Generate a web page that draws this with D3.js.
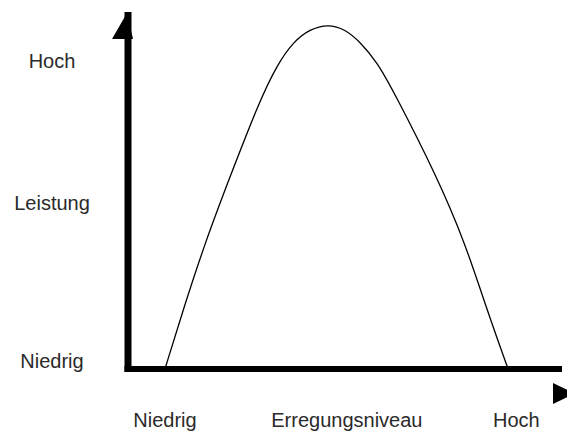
<!DOCTYPE html>
<html>
<head>
  <meta charset="utf-8">
  <title>Leistung und Erregungsniveau</title>
  <script src="https://d3js.org/d3.v7.min.js"></script>
  <style>
    body {
      margin: 0;
      background: #fff;
    }
    svg text {
      font-family: "Liberation Sans", Arial, sans-serif;
      font-size: 20px;
      fill: #2a2a2a;
    }
    .curve {
      fill: none;
      stroke: #000;
      stroke-width: 1.3;
    }
    .axis-line {
      stroke: #000;
    }
  </style>
</head>
<body>
  <svg id="chart" width="567" height="434"></svg>

  <script>
    // Curve (arousal 0-10, performance 0-10)
    const arousal = [0.86, 1.28, 1.79, 2.37, 3.07, 3.47, 3.84, 4.23, 4.65, 5.05, 5.4, 5.79, 6.16, 7.19, 7.84, 8.35, 8.84];
    const performance = [0, 1.65, 3.53, 5.38, 7.54, 8.52, 9.16, 9.52, 9.66, 9.52, 9.16, 8.6, 7.82, 5.38, 3.53, 1.65, 0];

    // Axis labels
    const xLabels = ["Niedrig", "Hoch"];
    const xLabelPos = [0.86, 9.03];
    const yLabels = ["Niedrig", "Hoch"];
    const yLabelPos = [0.03, 8.43];
    const xTitle = "Erregungsniveau";
    const xTitlePos = 5.09;
    const yTitle = "Leistung";
    const yTitlePos = 4.45;

    const svg = d3.select("#chart");
    const width = +svg.attr("width");

    const x = d3.scaleLinear().domain([0, 10]).range([128, 558]);
    const y = d3.scaleLinear().domain([0, 10]).range([369, 12]);

    const points = arousal.map((a, i) => ({ a, p: performance[i] }));

    // Curve (basis spline smooths small reading errors)
    svg.append("path")
      .datum(points)
      .attr("class", "curve")
      .attr("d", d3.line()
        .x(d => x(d.a))
        .y(d => y(d.p))
        .curve(d3.curveBasis));

    // Vertical axis with arrow
    svg.append("line")
      .attr("class", "axis-line")
      .attr("x1", x(0)).attr("x2", x(0))
      .attr("y1", y(10)).attr("y2", y(0) + 3)
      .attr("stroke-width", 7);
    svg.append("path")
      .attr("d", `M${x(0) - 16},39 L${x(0) + 5},39 L${x(0) - 1},13 Z`)
      .attr("fill", "#000");

    // Horizontal axis with arrow (arrow sits below, as in the original)
    svg.append("line")
      .attr("class", "axis-line")
      .attr("x1", x(0) - 3.5).attr("x2", width - 5)
      .attr("y1", y(0)).attr("y2", y(0))
      .attr("stroke-width", 6);
    svg.append("path")
      .attr("d", `M553,383 L553,404 L575,393.5 Z`)
      .attr("fill", "#000");

    // Y labels
    svg.selectAll(".ylab")
      .data(yLabels)
      .join("text")
      .attr("class", "ylab")
      .attr("x", 52)
      .attr("y", (d, i) => y(yLabelPos[i]))
      .attr("text-anchor", "middle")
      .text(d => d);
    svg.append("text")
      .attr("x", 52)
      .attr("y", y(yTitlePos))
      .attr("text-anchor", "middle")
      .text(yTitle);

    // X labels
    svg.selectAll(".xlab")
      .data(xLabels)
      .join("text")
      .attr("class", "xlab")
      .attr("x", (d, i) => x(xLabelPos[i]))
      .attr("y", 427)
      .attr("text-anchor", "middle")
      .text(d => d);
    svg.append("text")
      .attr("x", x(xTitlePos))
      .attr("y", 427)
      .attr("text-anchor", "middle")
      .text(xTitle);
  </script>
</body>
</html>
